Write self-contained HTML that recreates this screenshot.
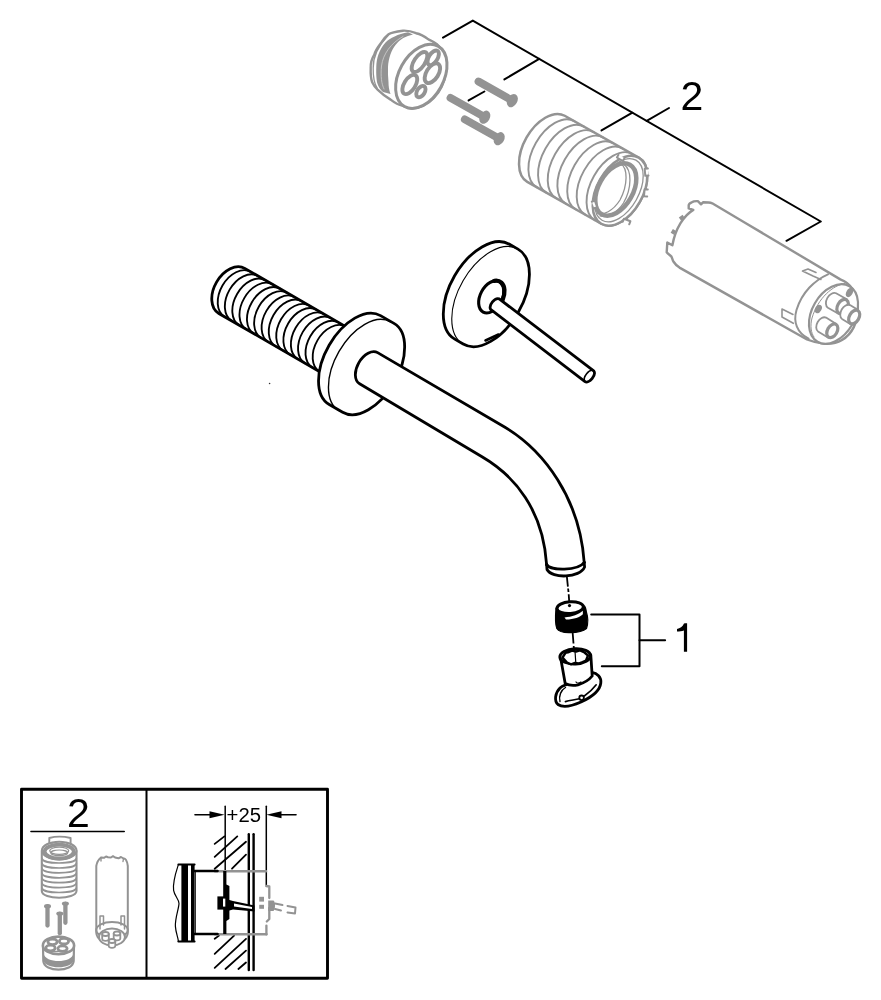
<!DOCTYPE html>
<html><head><meta charset="utf-8"><style>
html,body{margin:0;padding:0;background:#fff;width:881px;height:1000px;overflow:hidden}
svg{display:block;will-change:transform;filter:blur(0.3px)}
</style></head><body>
<svg width="881" height="1000" viewBox="0 0 881 1000" stroke-linecap="round" stroke-linejoin="round">
<polyline points="443,37.6 472.8,20.6 820.8,221.5 786.5,240.8" stroke="#000" stroke-width="2" fill="none"/>
<line x1="539.2" y1="58.9" x2="504.4" y2="79.4" stroke="#000" stroke-width="2"/>
<line x1="484.4" y1="91.5" x2="468.6" y2="100.4" stroke="#000" stroke-width="2"/>
<line x1="632.4" y1="112.7" x2="601.5" y2="130.4" stroke="#000" stroke-width="2"/>
<line x1="646.7" y1="120.9" x2="669.0" y2="108.0" stroke="#000" stroke-width="2"/>
<text x="680.5" y="110.4" font-size="41" font-family="Liberation Sans, sans-serif" fill="#000">2</text>
<polyline points="591.2,614.4 639.5,614.4 639.5,666.2 601.8,666.2" stroke="#000" stroke-width="2" fill="none"/>
<line x1="639.5" y1="640.2" x2="665.1" y2="640.2" stroke="#000" stroke-width="2"/>
<path d="M685.0,623.2 L687.1,623.2 L687.1,651.8 L683.9,651.8 L683.9,630.6 C682,631.2 679.5,631.5 677.0,631.6 L677.0,629.0 C680,628.4 682.5,627 684,623.6 Z" fill="#000"/>
<path d="M402.9,30.7 C396,31.5 391,32.5 388.6,34.3 C385,37 383,40 381.4,42.4 C377,48 375,51 374.3,54.7 C371,60 370.5,64 370.7,68 C370.5,74 371,79 372.2,82.3 C374,86 375.5,88 377.3,89.4 C382,94 386,97 390.6,99.6 C395,103 399,105 402.9,105.8 C406,107 409,108 412,108.5 C428,108 443,93 446,72 C447,60 443,50 436.6,44 C432,41 430,40 428.4,39.4 C424,36 420,34 416.1,33.2 C412,31.5 407,30.5 402.9,30.7 Z" fill="#fff" stroke="#939393" stroke-width="2.4"/>
<path d="M388,35.5 C379,45 373,56 373.2,68 C373,76 374.5,84 377.3,88.4" stroke="#939393" stroke-width="1.3" fill="none"/>
<path d="M408,32.2 C398,34 390,38 385.5,42.4 C379,50 376.5,58 376.3,67 C376,74 376.5,80 377.3,83.3 C378.5,87 380,89.5 383,92 L390.5,94 C389,90 388.5,86 388.5,82 C388,77 387.8,72 388,67 C388.5,58 391.5,50 395.5,45 C400,39 406,36 413,34.5 Z" fill="#939393"/>
<path d="M403,36.5 C391,43 383,54 381.5,66 C380.5,76 381.5,84 384,89" stroke="#c8c8c8" stroke-width="0.9" fill="none"/>
<ellipse cx="421.3" cy="76.3" rx="34.5" ry="22.3" transform="rotate(-61 421.3 76.3)" fill="#fff" stroke="#939393" stroke-width="3.0"/>
<ellipse cx="433.2" cy="57.8" rx="8.2" ry="4.3" transform="rotate(-58 433.2 57.8)" fill="#fff" stroke="#939393" stroke-width="3.9"/>
<ellipse cx="419.5" cy="62" rx="11.5" ry="5.4" transform="rotate(-56 419.5 62)" fill="#fff" stroke="#939393" stroke-width="3.9"/>
<ellipse cx="432.4" cy="73.2" rx="11" ry="6" transform="rotate(-58 432.4 73.2)" fill="#fff" stroke="#939393" stroke-width="3.9"/>
<ellipse cx="409.8" cy="84.5" rx="10.8" ry="5.6" transform="rotate(-58 409.8 84.5)" fill="#fff" stroke="#939393" stroke-width="3.9"/>
<ellipse cx="420.9" cy="91.6" rx="6.3" ry="3.8" transform="rotate(-58 420.9 91.6)" fill="#fff" stroke="#939393" stroke-width="3.9"/>
<line x1="478.5" y1="81.5" x2="512.3" y2="100.6" stroke="#939393" stroke-width="7.8" stroke-linecap="round"/>
<ellipse cx="512.3" cy="100.6" rx="7.0" ry="5.0" transform="rotate(-60 512.3 100.6)" fill="#939393"/>
<line x1="450.5" y1="97.8" x2="484.8" y2="117.2" stroke="#939393" stroke-width="7.8" stroke-linecap="round"/>
<ellipse cx="484.8" cy="117.2" rx="7.0" ry="5.0" transform="rotate(-60 484.8 117.2)" fill="#939393"/>
<line x1="464.8" y1="119.3" x2="499.2" y2="138.7" stroke="#939393" stroke-width="7.8" stroke-linecap="round"/>
<ellipse cx="499.2" cy="138.7" rx="7.0" ry="5.0" transform="rotate(-60 499.2 138.7)" fill="#939393"/>
<path d="M564.71,115.73 A38.00,22.80 119.5 0 0 527.29,181.87 L601.27,223.73 A38.00,22.80 119.5 0 0 638.69,157.58 Z" stroke="#939393" stroke-width="2.5" fill="#fff"/>
<path d="M574.37,121.19 A38.00,22.80 119.5 0 0 536.95,187.34" stroke="#939393" stroke-width="1.9" fill="none"/>
<path d="M584.03,126.66 A38.00,22.80 119.5 0 0 546.61,192.81" stroke="#939393" stroke-width="1.9" fill="none"/>
<path d="M593.69,132.12 A38.00,22.80 119.5 0 0 556.27,198.27" stroke="#939393" stroke-width="1.9" fill="none"/>
<path d="M603.36,137.59 A38.00,22.80 119.5 0 0 565.93,203.74" stroke="#939393" stroke-width="1.9" fill="none"/>
<path d="M613.02,143.06 A38.00,22.80 119.5 0 0 575.59,209.20" stroke="#939393" stroke-width="1.9" fill="none"/>
<path d="M622.68,148.52 A38.00,22.80 119.5 0 0 585.25,214.67" stroke="#939393" stroke-width="1.9" fill="none"/>
<path d="M632.34,153.99 A38.00,22.80 119.5 0 0 594.91,220.13" stroke="#939393" stroke-width="1.9" fill="none"/>
<ellipse cx="620.0" cy="190.7" rx="38.0" ry="22.8" transform="rotate(119.5 620.0 190.7)" fill="#fff" stroke="#939393" stroke-width="2.5"/>
<ellipse cx="619.0" cy="190.2" rx="34.5" ry="19.8" transform="rotate(119.5 619.0 190.2)" fill="none" stroke="#939393" stroke-width="1.3"/>
<ellipse cx="615.8" cy="189.5" rx="28.5" ry="17.2" transform="rotate(119.5 615.8 189.5)" fill="#fff" stroke="#939393" stroke-width="4.5"/>
<path d="M620.5,163.5 C628,168 628,185 620,200 C613,211 603,216 597,213" stroke="#939393" stroke-width="1.3" fill="none"/>
<path d="M624,164.5 C632,170 632,188 623.5,203 C617,213 607,218 600,216" stroke="#939393" stroke-width="1.3" fill="none"/>
<path d="M618.5,154.8 L616.9,157.5 L622.9,161.0 L624.5,158.2" fill="#fff" stroke="#939393" stroke-width="2"/>
<path d="M647.9,168.5 L644.7,168.8 L645.3,175.8 L648.5,175.5" fill="#fff" stroke="#939393" stroke-width="2"/>
<path d="M647.8,189.5 L644.6,189.2 L644.0,196.2 L647.2,196.5" fill="#fff" stroke="#939393" stroke-width="2"/>
<path d="M629.2,224.3 L630.4,221.3 L624.0,218.7 L622.8,221.7" fill="#fff" stroke="#939393" stroke-width="2"/>
<path d="M594.2,208.3 L597.2,207.2 L594.8,200.6 L591.8,201.7" fill="#fff" stroke="#939393" stroke-width="2"/>
<path d="M745,222.7 L712.2,203.3 C710,202.5 706,202.3 703,202.3 L701,204.3 L697.9,201.2 C695,201 693,201.5 691.8,202.3 C690,203 688.7,204 688.7,205.3 L688.7,208.4 L693.3,209.9 C684,215.5 675.5,228 672.4,245.2 L667.3,242.6 L666.7,252.3 C668,254 670,255 671.3,256.4 C672.5,258.5 672.5,260 673.4,261.5 C675,264 677,266 679.5,267.6 L807,339.5 C818,344 832,346 842,340 C852,334 858,322 857.5,306 C857,292 850,283 840.3,279.4 Z" fill="#fff" stroke="#939393" stroke-width="2.4"/>
<rect x="679.5" y="215.8" width="4.6" height="3.8" transform="rotate(-35 681.8 217.7)" fill="#939393"/>
<rect x="671.2" y="230" width="4.4" height="3.8" transform="rotate(-60 673.4 231.9)" fill="#939393"/>
<path d="M828,274.3 C815,280 802,292 796.5,310 C793,322 797,333 808.6,338.7" stroke="#939393" stroke-width="2" fill="none"/>
<ellipse cx="833.5" cy="314" rx="32" ry="21.5" transform="rotate(-60 833.5 314)" fill="#fff" stroke="#939393" stroke-width="2.2"/>
<path d="M845,283.5 C833,285 818,298 812,318 C810,326 811,333 814,337" stroke="#939393" stroke-width="1" fill="none"/>
<path d="M820.9,279.4 L813,276 L802.5,271 L808,269 L816,272.5" stroke="#939393" stroke-width="1.6" fill="none"/>
<path d="M793.3,323.3 L782,317 L782,309 L793,314.5" stroke="#939393" stroke-width="1.6" fill="none"/>
<ellipse cx="849.5" cy="292.5" rx="5" ry="3.2" transform="rotate(-60 849.5 292.5)" fill="#939393"/>
<path d="M836.1,293.3 L846.8,299.3 L838.5,313.7 L827.9,307.7 A8.3,5.6 120 0 1 836.1,293.3 Z" fill="#fff" stroke="#939393" stroke-width="1.8"/>
<ellipse cx="842.6" cy="306.5" rx="7.700000000000001" ry="5.0" transform="rotate(120 842.6 306.5)" fill="#fff" stroke="#939393" stroke-width="3.2"/>
<path d="M850.0,305.1 L858.2,310.1 L850.2,323.9 L842.0,318.9 A8.0,5.4 120 0 1 850.0,305.1 Z" fill="#fff" stroke="#939393" stroke-width="1.8"/>
<ellipse cx="854.2" cy="317" rx="7.4" ry="4.800000000000001" transform="rotate(120 854.2 317)" fill="#fff" stroke="#939393" stroke-width="3.2"/>
<path d="M826.0,317.6 L836.3,323.9 L828.3,337.7 L818.0,331.4 A8.0,5.4 120 0 1 826.0,317.6 Z" fill="#fff" stroke="#939393" stroke-width="1.8"/>
<ellipse cx="832.3" cy="330.8" rx="7.4" ry="4.800000000000001" transform="rotate(120 832.3 330.8)" fill="#fff" stroke="#939393" stroke-width="3.2"/>
<ellipse cx="818.3" cy="309" rx="4.5" ry="3.2" transform="rotate(-60 818.3 309)" fill="#939393"/>
<path d="M244.80,268.38 A26.00,17.60 120.0 0 0 218.80,313.42 L340.04,383.42 A26.00,17.60 120.0 0 0 366.04,338.38 Z" stroke="#000" stroke-width="2.8" fill="#fff"/>
<path d="M250.56,271.71 A26.00,17.60 120.0 0 0 224.56,316.74" stroke="#000" stroke-width="1.85" fill="none"/>
<path d="M257.88,275.93 A26.00,17.60 120.0 0 0 231.88,320.97" stroke="#000" stroke-width="1.85" fill="none"/>
<path d="M265.19,280.16 A26.00,17.60 120.0 0 0 239.19,325.19" stroke="#000" stroke-width="1.85" fill="none"/>
<path d="M272.51,284.38 A26.00,17.60 120.0 0 0 246.51,329.42" stroke="#000" stroke-width="1.85" fill="none"/>
<path d="M279.83,288.61 A26.00,17.60 120.0 0 0 253.83,333.64" stroke="#000" stroke-width="1.85" fill="none"/>
<path d="M287.15,292.83 A26.00,17.60 120.0 0 0 261.15,337.87" stroke="#000" stroke-width="1.85" fill="none"/>
<path d="M294.47,297.06 A26.00,17.60 120.0 0 0 268.47,342.09" stroke="#000" stroke-width="1.85" fill="none"/>
<path d="M301.78,301.28 A26.00,17.60 120.0 0 0 275.78,346.32" stroke="#000" stroke-width="1.85" fill="none"/>
<path d="M309.10,305.51 A26.00,17.60 120.0 0 0 283.10,350.54" stroke="#000" stroke-width="1.85" fill="none"/>
<path d="M316.42,309.73 A26.00,17.60 120.0 0 0 290.42,354.77" stroke="#000" stroke-width="1.85" fill="none"/>
<path d="M323.74,313.96 A26.00,17.60 120.0 0 0 297.74,358.99" stroke="#000" stroke-width="1.85" fill="none"/>
<path d="M331.06,318.18 A26.00,17.60 120.0 0 0 305.06,363.22" stroke="#000" stroke-width="1.85" fill="none"/>
<path d="M338.37,322.41 A26.00,17.60 120.0 0 0 312.37,367.44" stroke="#000" stroke-width="1.85" fill="none"/>
<path d="M345.69,326.63 A26.00,17.60 120.0 0 0 319.69,371.67" stroke="#000" stroke-width="1.85" fill="none"/>
<path d="M380.53,315.62 A51.30,29.75 120.0 0 0 329.23,404.48 L342.65,412.23 A51.30,29.75 120.0 0 0 393.95,323.37 Z" stroke="#000" stroke-width="2.8" fill="#fff"/>
<path d="M390.45,321.87 A51.30,29.75 120.0 0 0 339.15,410.73" stroke="#000" stroke-width="1.4" fill="none"/>
<path d="M377.6,352.6 L502,425.5 C545,450 580,500 584.2,562.5 L546.6,564.5 C543,510 515,476 482,456.7 L359.6,383.8 A18,11.2 120 0 1 377.6,352.6 Z" stroke="none" fill="#fff"/>
<path d="M584.2,562.5 C580,500 545,450 502,425.5 L377.6,352.6 A18,11.2 120 0 0 359.6,383.8 L482,456.7 C515,476 543,510 546.6,564.5" stroke="#000" stroke-width="2.8" fill="none"/>
<path d="M546.6,564.5 C550,571 578,571 584.2,562.5" stroke="#000" stroke-width="2.8" fill="none"/>
<path d="M546.6,564.5 L547,569.5 C552,579 580,578 584.6,567 L584.2,562.5" stroke="#000" stroke-width="2.8" fill="#fff"/>
<path d="M546.6,564.5 C550,571 578,571 584.2,562.5" stroke="#000" stroke-width="2.8" fill="none"/>
<path d="M509.51,244.24 A54.80,31.78 120.0 0 0 454.71,339.16 L463.20,344.06 A54.80,31.78 120.0 0 0 518.00,249.14 Z" stroke="#000" stroke-width="2.8" fill="#fff"/>
<path d="M518.00,249.14 A54.80,31.78 120.0 0 0 463.20,344.06" stroke="#000" stroke-width="1.1" fill="none"/>
<ellipse cx="491.30" cy="296.80" rx="17.30" ry="11.00" transform="rotate(118.0 491.30 296.80)" stroke="#000" stroke-width="3.1" fill="#fff"/>
<path d="M494.5,280.8 A17.5,11.2 118 0 1 496.5,308.8" stroke="#000" stroke-width="4.4" fill="none"/>
<path d="M485.5,340.5 L498.5,334.5" stroke="#000" stroke-width="2.6"/>
<path d="M499.2,298.9 L593.7,370.8 A7,4.2 127 0 1 585.0,381.6 L490.6,309.4 A7,4.4 127 0 1 499.2,298.9 Z" stroke="#000" stroke-width="2.8" fill="#fff"/>
<path d="M593.7,370.8 A7,4.2 127 0 0 585.0,381.6" stroke="#000" stroke-width="1.6" fill="none"/>
<circle cx="269.6" cy="383.5" r="0.8" fill="#333"/>
<path d="M566.8,576 L567.9,586.7 M568.1,588.5 L568.5,592 M568.7,594.2 L569.2,601.5" stroke="#000" stroke-width="1.8" fill="none" stroke-linecap="butt"/>
<path d="M572.6,632 L573.5,643.5 M573.7,646 L574,650" stroke="#000" stroke-width="1.8" fill="none" stroke-linecap="butt"/>
<path d="M556,608 C555.3,616 555.2,624 556.8,628.5 C559,632 565,632.8 570.5,632.6 C577,632.5 583,631.5 586.5,628.5 C588,624 588,617 586.5,612.5 C586,609.5 585.5,607 584.5,606 Z" fill="#000" stroke="#000" stroke-width="1.2"/>
<ellipse cx="570.2" cy="607.6" rx="13.2" ry="5.9" transform="rotate(-4 570.2 607.6)" fill="#fff" stroke="#000" stroke-width="3"/>
<path d="M564.5,617.5 C572,616.8 579,614.5 582.8,610.8 L582.9,614.2 C580,617.3 574,619.3 566,619.6 Z" fill="#fff"/>
<circle cx="569.5" cy="605.6" r="1.6" fill="#000"/>
<path d="M592,672.5 C597,673 601.5,677 600.8,683 C600,690 592,697 581,702 C572,706 563,708 558,704.5 C554,701 555,693 560,688 C562,686 564,685.5 565.5,685 Z" fill="#fff" stroke="#000" stroke-width="2.8"/>
<path d="M565.5,687.5 C561,690 558.5,696 560,701.5" stroke="#000" stroke-width="1.4" fill="none"/>
<path d="M565.4,701.6 C570,700.5 575,699.8 579.4,698.8 M584.3,696 C588,693.5 593,689 596.2,684.8" stroke="#000" stroke-width="1.6" fill="none"/>
<circle cx="581.6" cy="697.8" r="2.3" fill="#fff" stroke="#000" stroke-width="1.8"/>
<path d="M560.3,656 L565.2,683.5 C569,685.5 574,685.8 578,684.8 C584,683 589,680 592.2,676 L590.8,655 Z" fill="#fff" stroke="#000" stroke-width="2.8"/>
<path d="M576,682 C577,683.5 579,683.5 581,682" stroke="#000" stroke-width="1.2" fill="none"/>
<ellipse cx="575.2" cy="656.3" rx="15.3" ry="7.6" transform="rotate(-3 575.2 656.3)" fill="#fff" stroke="#000" stroke-width="3"/>
<path d="M562.5,657.5 L565.5,652.8 L569,652 L572,650.6 L576,651.5 L580,650.4 L584.5,652.5 L588,655.5 L586,660.5 L582.5,662 L578.5,663.5 L575,663 L571,664.3 L567,662.5 Z" fill="#fff" stroke="#000" stroke-width="2.4"/>
<path d="M575,651 L575.8,663" stroke="#000" stroke-width="1.2"/>
<rect x="21.5" y="789.3" width="306" height="189" stroke="#000" stroke-width="2.9" fill="none"/>
<line x1="146.5" y1="789.0" x2="146.5" y2="978.0" stroke="#000" stroke-width="2"/>
<line x1="31.0" y1="831.5" x2="124.2" y2="831.5" stroke="#000" stroke-width="1.6"/>
<text x="67" y="827.2" font-size="41" font-family="Liberation Sans, sans-serif" fill="#000">2</text>
<path d="M49.3,844 L49.3,838 C55,836.4 64,836.4 70.6,838 L70.6,844" fill="#fff" stroke="#939393" stroke-width="1.9"/>
<path d="M41.8,851 L41.8,891 C42,900 76,900 76.5,891 L76.5,851" fill="#fff" stroke="#939393" stroke-width="2.1"/>
<path d="M42,858.5 C43,864.5 75,864.5 76.3,858.5" stroke="#939393" stroke-width="1.7" fill="none"/>
<path d="M42,863.5 C43,869.5 75,869.5 76.3,863.5" stroke="#939393" stroke-width="1.7" fill="none"/>
<path d="M42,868.4 C43,874.4 75,874.4 76.3,868.4" stroke="#939393" stroke-width="1.7" fill="none"/>
<path d="M42,873.3 C43,879.3 75,879.3 76.3,873.3" stroke="#939393" stroke-width="1.7" fill="none"/>
<path d="M42,878.2 C43,884.2 75,884.2 76.3,878.2" stroke="#939393" stroke-width="1.7" fill="none"/>
<path d="M42,883.1 C43,889.1 75,889.1 76.3,883.1" stroke="#939393" stroke-width="1.7" fill="none"/>
<path d="M42,888.0 C43,894.0 75,894.0 76.3,888.0" stroke="#939393" stroke-width="1.7" fill="none"/>
<ellipse cx="59.2" cy="850.6" rx="17.3" ry="8.9" fill="#fff" stroke="#939393" stroke-width="2.1"/>
<path d="M52,842.5 L52,845 M67,842.5 L67,845" stroke="#939393" stroke-width="1.4"/>
<ellipse cx="59.2" cy="851.6" rx="14.6" ry="6.9" fill="none" stroke="#939393" stroke-width="3.8"/>
<ellipse cx="59.2" cy="850.8" rx="9.5" ry="3.6" fill="none" stroke="#939393" stroke-width="1.3"/>
<ellipse cx="59.2" cy="852.8" rx="8.5" ry="2.8" fill="none" stroke="#939393" stroke-width="1.2"/>
<line x1="47.5" y1="906.5" x2="47.5" y2="925.5" stroke="#939393" stroke-width="4.3" stroke-linecap="round"/>
<ellipse cx="47.5" cy="906.3" rx="3.5" ry="2.2" fill="#939393"/>
<line x1="65.4" y1="903.8" x2="65.4" y2="922.8" stroke="#939393" stroke-width="4.3" stroke-linecap="round"/>
<ellipse cx="65.4" cy="903.5999999999999" rx="3.5" ry="2.2" fill="#939393"/>
<line x1="59.8" y1="913.8" x2="59.8" y2="933.2" stroke="#939393" stroke-width="4.3" stroke-linecap="round"/>
<ellipse cx="59.8" cy="913.5999999999999" rx="3.5" ry="2.2" fill="#939393"/>
<path d="M43,945.5 L43.3,961 C44,972.5 73,972.5 73.7,961 L74,945.5" fill="#fff" stroke="#939393" stroke-width="2.2"/>
<path d="M43.6,953.5 C45,963.5 72,963.5 73.4,953.5 L73.5,960.5 C72,969.5 45,969.5 43.5,960.5 Z" fill="#939393"/>
<ellipse cx="58.5" cy="945.4" rx="15.6" ry="8.8" fill="#fff" stroke="#939393" stroke-width="2.6"/>
<ellipse cx="52.5" cy="941.8" rx="4.6" ry="2.8" fill="#fff" stroke="#939393" stroke-width="2.8"/>
<ellipse cx="64" cy="941.2" rx="4.6" ry="2.8" fill="#fff" stroke="#939393" stroke-width="2.8"/>
<ellipse cx="50.5" cy="948" rx="4.6" ry="2.8" fill="#fff" stroke="#939393" stroke-width="2.8"/>
<ellipse cx="62.5" cy="948.6" rx="4.6" ry="2.8" fill="#fff" stroke="#939393" stroke-width="2.8"/>
<path d="M47,951.5 L70,951.5" stroke="#939393" stroke-width="1.6"/>
<path d="M96.3,866 L96.3,933 C97,946 127,946 127.8,933 L127.8,866 C127,860 125,858 123.5,858.5 L121,857 L118.5,858.3 L115,857.5 L113,856.2 L111,857.5 L108,857.3 L106,856.5 L104,857.8 L101,857.5 C99,859 97,862 96.3,866 Z" fill="#fff" stroke="#939393" stroke-width="2"/>
<path d="M101,857.5 L101,861 M123.5,858.5 L123,861.5" stroke="#939393" stroke-width="1.4"/>
<path d="M100,929 L100,916 L103.5,916 L103.5,925 M121,925 L121,916 L124.5,916 L124.5,929" stroke="#939393" stroke-width="1.5" fill="none"/>
<ellipse cx="112" cy="930" rx="15.8" ry="8" fill="none" stroke="#939393" stroke-width="2"/>
<ellipse cx="112" cy="937" rx="13" ry="8.5" fill="#fff" stroke="#939393" stroke-width="2"/>
<path d="M102.2,934 L102.2,939 C102.5,941.5 108.5,941.5 108.8,939 L108.8,934" fill="#fff" stroke="#939393" stroke-width="1.8"/>
<ellipse cx="105.5" cy="934" rx="3.3" ry="2" fill="#fff" stroke="#939393" stroke-width="1.8"/>
<path d="M113.7,933.5 L113.7,938.5 C114,941.0 120,941.0 120.3,938.5 L120.3,933.5" fill="#fff" stroke="#939393" stroke-width="1.8"/>
<ellipse cx="117" cy="933.5" rx="3.3" ry="2" fill="#fff" stroke="#939393" stroke-width="1.8"/>
<path d="M108.7,941 L108.7,946 C109,948.5 115,948.5 115.3,946 L115.3,941" fill="#fff" stroke="#939393" stroke-width="1.8"/>
<ellipse cx="112" cy="941" rx="3.3" ry="2" fill="#fff" stroke="#939393" stroke-width="1.8"/>
<path d="M195,814.8 L210,814.8" stroke="#000" stroke-width="1.6"/>
<path d="M209.5,811.3 L224.6,814.8 L209.5,818.3 Z" fill="#000"/>
<path d="M281,814.8 L296,814.8" stroke="#000" stroke-width="1.6"/>
<path d="M281.5,811.3 L266.3,814.8 L281.5,818.3 Z" fill="#000"/>
<path d="M225.2,806.2 L225.2,872" stroke="#000" stroke-width="1.5"/>
<path d="M266.3,806.2 L266.3,884.8" stroke="#000" stroke-width="1.5"/>
<text x="226.6" y="821.9" font-size="20.3" font-family="Liberation Sans, sans-serif" fill="#000">+25</text>
<path d="M214.7,843.9 L224.4,836.4" stroke="#000" stroke-width="1.8"/>
<path d="M214.7,856.9 L237.3,836.4" stroke="#000" stroke-width="1.8"/>
<path d="M214.7,868.7 L246,841.8" stroke="#000" stroke-width="1.8"/>
<path d="M232,868.7 L246,854.7" stroke="#000" stroke-width="1.8"/>
<path d="M214.7,938.8 L219,935.6" stroke="#000" stroke-width="1.8"/>
<path d="M214.7,953.9 L234.1,935.6" stroke="#000" stroke-width="1.8"/>
<path d="M214.7,967.9 L246,938.8" stroke="#000" stroke-width="1.8"/>
<path d="M225.5,969 L246,950.7" stroke="#000" stroke-width="1.8"/>
<path d="M238.4,969 L246,962.5" stroke="#000" stroke-width="1.8"/>
<path d="M248.8,834.2 L248.8,970" stroke="#000" stroke-width="2.4"/>
<path d="M253.6,834.2 L253.6,970" stroke="#000" stroke-width="2.4"/>
<path d="M215,871.2 L266,871.2 M215,934.2 L266.4,934.2" stroke="#939393" stroke-width="2.6"/>
<path d="M178.4,864.6 C176,872 172.5,882 173.6,890.4 C174.5,896 179,899 179,903.6 C178.5,910 175,918 175.4,926.4 C175.8,933 178,937 178.4,941.4" stroke="#000" stroke-width="1.2" fill="none"/>
<path d="M178.4,864.6 L194.6,864.6 M178.4,941.4 L194.6,941.4" stroke="#000" stroke-width="2"/>
<rect x="181.4" y="864.6" width="6.6" height="76.8" fill="#000"/>
<rect x="191" y="864.6" width="3.6" height="76.8" fill="#000"/>
<path d="M194.6,871 L217.5,871 M194.6,934 L217.5,934" stroke="#000" stroke-width="2.6"/>
<path d="M195.3,871 L195.3,934" stroke="#000" stroke-width="1"/>
<path d="M223.2,871 L223.2,934 L226.4,934 L226.4,921 L229.4,919 L229.4,886 L226.4,884.4 L226.4,871 Z" fill="#000"/>
<rect x="217.4" y="896.4" width="9" height="13.2" fill="#000"/>
<rect x="223" y="898.6" width="2.3" height="8" fill="#fff"/>
<path d="M227.6,899.5 L233,901 L254.5,905.5 L254.5,911.5 L233,909.5 L227.6,911 Z" fill="#000"/>
<path d="M234,903.5 L252,907 L252,909 L234,906.5 Z" fill="#fff"/>
<path d="M266.2,886 L269.3,886.5 L269.3,898 M269.3,908 L269.3,919 L266.8,921.5 M266.4,925.6 L266.4,934.4" stroke="#939393" stroke-width="2.3" fill="none"/>
<rect x="259.2" y="896.8" width="4.8" height="4.8" fill="#939393"/>
<rect x="259.2" y="904.8" width="4.8" height="4" fill="#939393"/>
<path d="M268.2,900.5 L273.5,900.5 C275.5,902 275.5,909 273.5,911 L268.2,911 Z" fill="#939393"/>
<path d="M275,903.5 L282.5,905 M275,909 L281,910.5 M287.5,906 L295.5,907.5 L295,913.5 L287.5,912.5" stroke="#939393" stroke-width="2" fill="none"/>
</svg>
</body></html>
